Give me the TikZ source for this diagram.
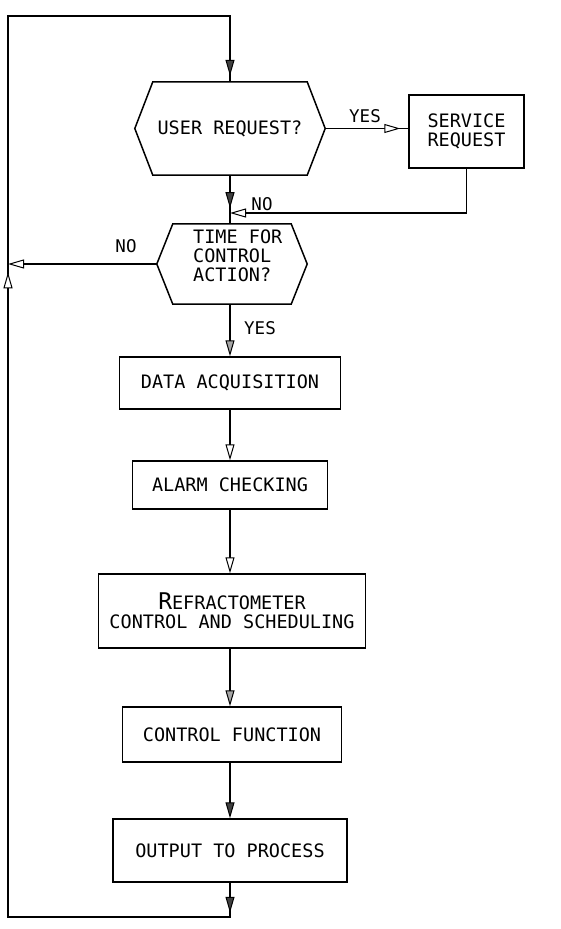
\documentclass[tikz,border=0pt]{standalone}
\usepackage{fontspec}
\setmonofont{DejaVu Sans Mono}
\usetikzlibrary{arrows.meta,decorations.markings,calc}
\begin{document}
\begin{tikzpicture}[x=1pt,y=-1pt,
  conn/.style={line width=1.5pt},
  boxtext/.style={font=\fontsize{18.5}{19}\selectfont\ttfamily},
  smalltext/.style={font=\fontsize{17.5}{19}\selectfont\ttfamily, inner sep=0pt},
  procbox/.style={draw, line width=1.5pt, inner sep=0pt, align=center, boxtext},
  hexframe/.style={inner sep=0pt, draw=none},
  hexline/.style={line width=1.5pt, line join=miter},
  tipfill/.tip={Triangle[length=16pt,width=9pt,fill=black!75,line width=1pt]},
  tipgray/.tip={Triangle[length=16pt,width=9pt,fill=black!35,line width=1pt]},
  tipopen/.tip={Triangle[length=16pt,width=9pt,fill=white,line width=1pt]},
]
\useasboundingbox (0,0) rectangle (560,929);

% decision 1
\node[hexframe, minimum width=190pt, minimum height=93pt, boxtext] (ur) at (230,128.5) {USER REQUEST?};
\draw[hexline] (ur.west) -- ([xshift=18pt]ur.north west) -- ([xshift=-18pt]ur.north east) -- (ur.east)
  -- ([xshift=-18pt]ur.south east) -- ([xshift=18pt]ur.south west) -- cycle;

% service request
\node[procbox, minimum width=115pt, minimum height=73pt] (sr) at (466.5,131.5) {SERVICE\\REQUEST};

% decision 2
\node[hexframe, minimum width=150pt, minimum height=80pt] (th) at (232,264) {};
\draw[hexline] (th.west) -- ([xshift=16pt]th.north west) -- ([xshift=-16pt]th.north east) -- (th.east)
  -- ([xshift=-16pt]th.south east) -- ([xshift=16pt]th.south west) -- cycle;
\node[boxtext, align=left, anchor=west, inner sep=0pt] (thl) at (193,256) {TIME FOR\\CONTROL\\ACTION?};

% process boxes
\node[procbox, minimum width=221pt, minimum height=52pt] (da) at (230,383) {DATA ACQUISITION};
\node[procbox, minimum width=195pt, minimum height=48pt] (ac) at (230,485) {ALARM CHECKING};
\node[procbox, minimum width=267pt, minimum height=74pt] (rc) at (232,611)
  {{\fontsize{23}{19}\selectfont R}EFRACTOMETER\\CONTROL AND SCHEDULING};
\node[procbox, minimum width=219pt, minimum height=55pt] (cf) at (232,734.5) {CONTROL FUNCTION};
\node[procbox, minimum width=234pt, minimum height=63pt] (op) at (230,850.5) {OUTPUT TO PROCESS};

% coordinates
\coordinate (j) at (230,213);
\coordinate (c1) at (230,917);
\coordinate (c2) at (8,917);
\coordinate (c3) at (8,16);
\coordinate (c4) at (230,16);

% connectors
\draw[conn, postaction={decorate}, decoration={markings, mark=at position -8pt with {\arrow{tipopen}}}]
  (ur.east) -- (ur.east -| sr.west);
\node[smalltext] (yes1) at (365,116) {YES};

\draw[conn, postaction={decorate}, decoration={markings, mark=at position 33pt with {\arrow{tipfill}}}]
  (ur.south) -- (ur.south |- th.north);
\draw[conn, -{tipopen}] (sr.south) |- (j);
\node[smalltext] (no1) at (262,204) {NO};

\draw[conn, -{tipopen}] (th.west) -- (th.west -| c3);
\node[smalltext] (no2) at (126,246) {NO};

\draw[conn, -{tipgray}] (th.south -| da.north) -- (da.north);
\node[smalltext] (yes2) at (260,328) {YES};

\draw[conn, -{tipopen}] (da.south) -- (ac.north);
\draw[conn, -{tipopen}] (ac.south) -- (ac.south |- rc.north);
\draw[conn, -{tipgray}] (rc.south -| ac.south) -- (cf.north -| ac.south);
\draw[conn, -{tipfill}] (cf.south -| op.north) -- (op.north);

% loop back
\draw[conn, line join=miter, postaction={decorate}, decoration={markings,
    mark=at position 30pt with {\arrow{tipfill}},
    mark=at position 901pt with {\arrow{tipopen}},
    mark=at position -6pt with {\arrow{tipfill}}}]
  (op.south) -- (c1) -- (c2) -- (c3) -- (c4) -- (ur.north);
\end{tikzpicture}
\end{document}
